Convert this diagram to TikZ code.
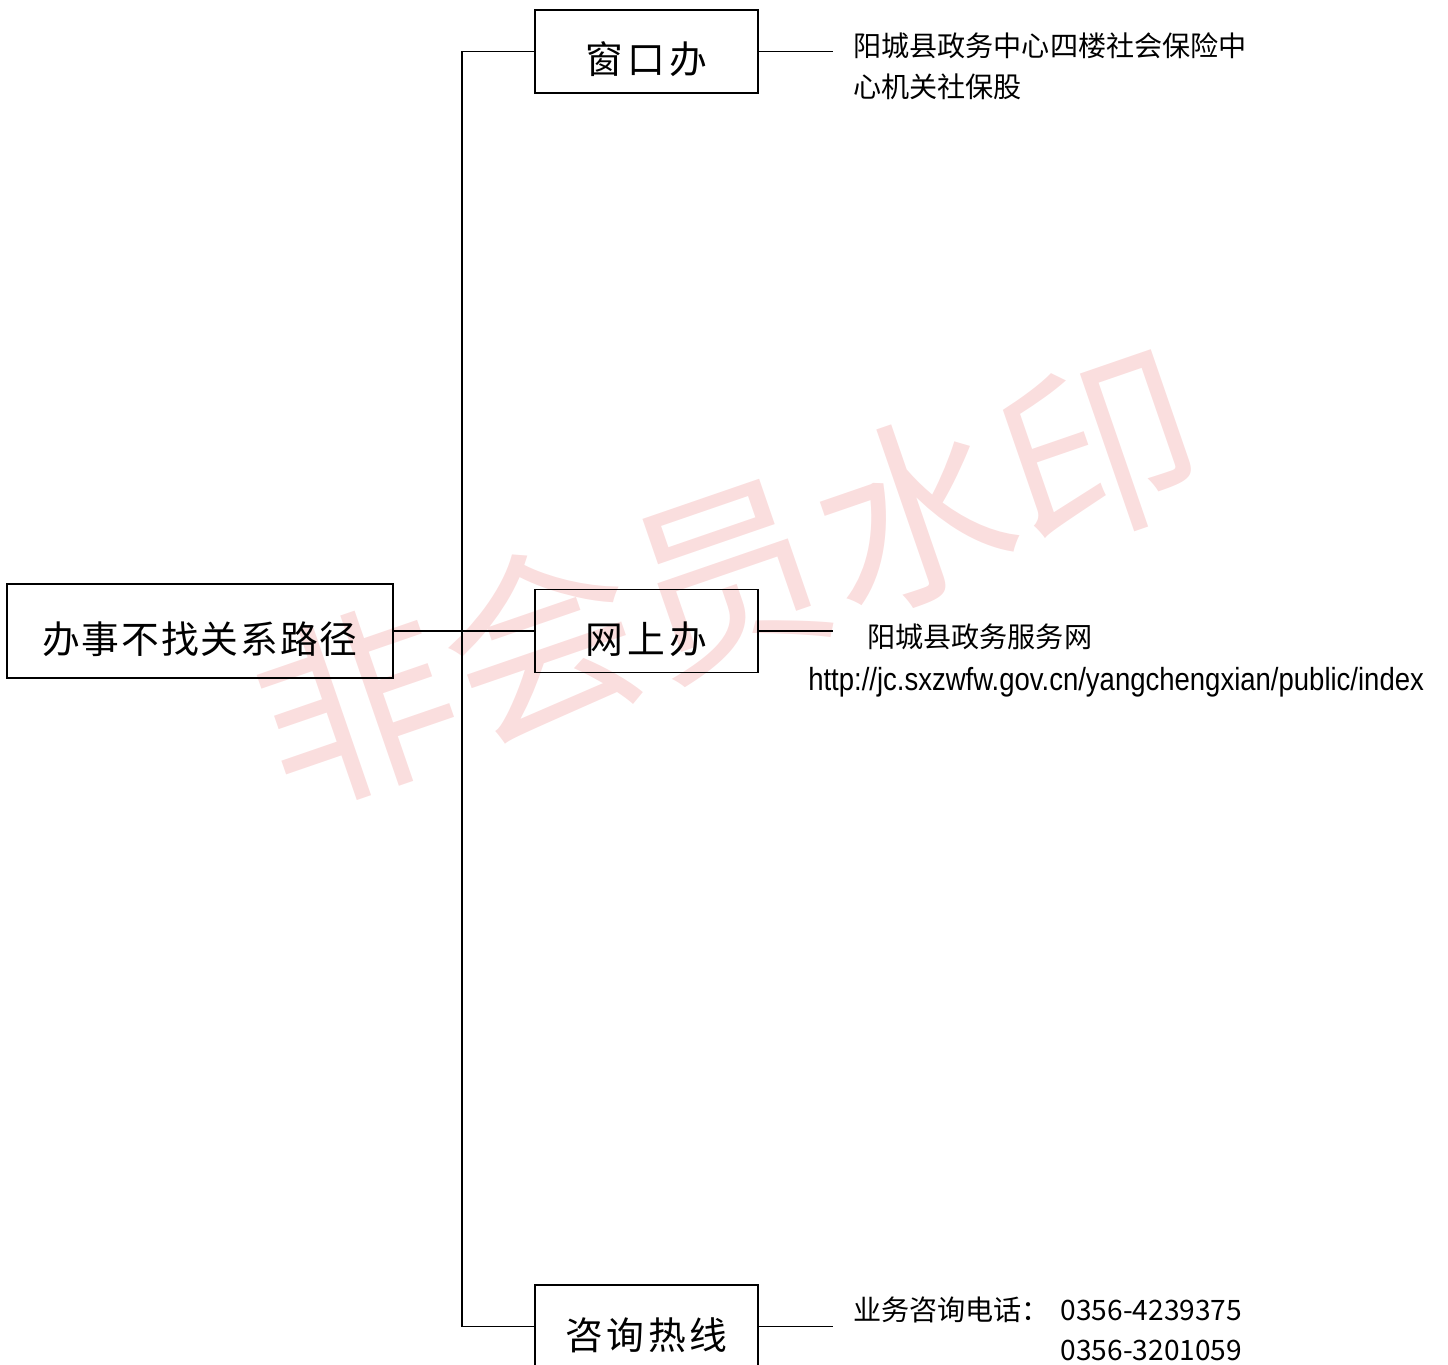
\documentclass[tikz,border=0pt]{standalone}
\usepackage{fontspec}
\setmainfont{Noto Sans CJK SC}
\newfontfamily\urlfont[FakeStretch=0.86]{Liberation Sans}
\usepackage{tikz}
\usetikzlibrary{positioning, calc}
\definecolor{markpink}{RGB}{250,222,222}
\tikzstyle{mainbox} = [rectangle, minimum width=7.72cm, minimum height=1.88cm, text centered, draw=black, line width=1.1pt, font=\fontsize{21.5}{26}\selectfont\addfontfeature{LetterSpace=5}, text height=0.9cm, text depth=0cm]
\tikzstyle{branch} = [rectangle, minimum width=4.46cm, minimum height=1.66cm, text centered, draw=black, line width=1.1pt, font=\fontsize{21.5}{26}\selectfont\addfontfeature{LetterSpace=10}, text height=0.9cm, text depth=0cm]
\tikzstyle{info} = [inner sep=0pt, align=left, font=\fontsize{16}{23.3}\selectfont]
\tikzstyle{line} = [line width=0.6pt]
\tikzstyle{link} = [line width=1.1pt]

\begin{document}
\begin{tikzpicture}[node distance=2cm, font=\fontsize{16}{23.3}\selectfont]
			\useasboundingbox (0,0) rectangle (28.96,-27.28);
			
			% watermark
			\node (mark) [text=markpink, rotate=19, font=\fontsize{112}{112}\selectfont] at (14.55,-11.55) {非会员水印};
			
			\node (main) [mainbox] at (4.0,-12.62) {办事不找关系路径};
			
			\node (net) [branch, right=2.8cm of main] {网上办};
			
			\node (win) [branch, above=9.9cm of net] {窗口办};
			
			\node (tel) [branch, below=12.22cm of net] {咨询热线};
			
			\draw [link] (main) -- (net);
			\draw [line] (win.west) -- ++(-1.44,0) |- (tel.west);
			\draw [line] (win.east) -- ++(1.48,0) coordinate (wintip);
			\draw [link] (net.east) -- ++(1.48,0) coordinate (nettip);
			\draw [line] (tel.east) -- ++(1.48,0) coordinate (teltip);
			
			\node (wininfo) [info, right=0.4cm of wintip, yshift=-0.3cm] {阳城县政务中心四楼社会保险中\\心机关社保股};
			
			\node (netinfo) [info, right=0.68cm of nettip, yshift=-0.12cm] {阳城县政务服务网};
			
			\node (url) [info, anchor=west, font=\urlfont\fontsize{18.2}{22}\selectfont] at ($(nettip)+(-0.5,-1.03)$) {http://jc.sxzwfw.gov.cn/yangchengxian/public/index};
			
			\node (telinfo) [info, right=0.4cm of teltip, yshift=0.34cm] {业务咨询电话：};
			
			\node (telnum) [info, right=0.2cm of telinfo, yshift=-0.41cm] {0356-4239375\\0356-3201059};
			\end{tikzpicture}
\end{document}
